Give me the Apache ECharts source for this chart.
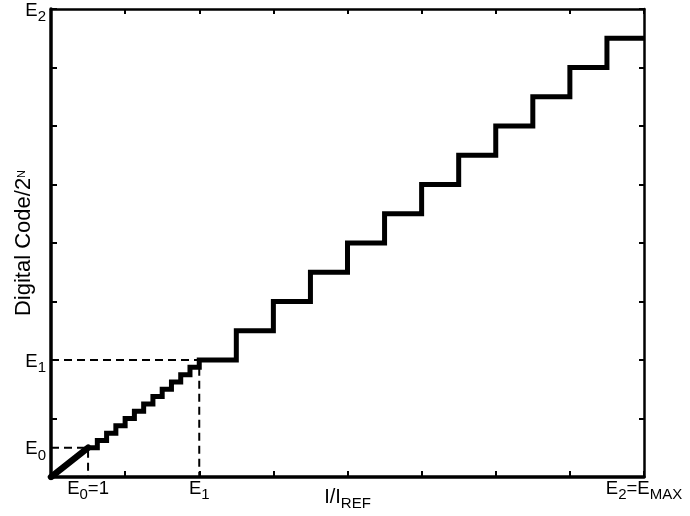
<!DOCTYPE html>
<html>
<head>
<meta charset="utf-8">
<script src="https://cdn.jsdelivr.net/npm/echarts@6/dist/echarts.min.js"></script>
<style>
html,body{margin:0;padding:0;background:#fff;}
#chart{width:690px;height:516px;}
</style>
</head>
<body>
<div id="chart"></div>
<script>
// ---- data ----
const axisMin = 0;
const axisMax = 16;
const axisStep = 2;
const E0 = 1;
const E1 = 4;
const E2 = 16;
// linear part from origin to E0
const rampX = [0, 1];
const rampY = [0, 1];
// fine quantisation steps between E0 and E1
const fineX = [1, 1.25, 1.5, 1.75, 2, 2.25, 2.5, 2.75, 3, 3.25, 3.5, 3.75, 4];
const fineY = [1, 1.25, 1.5, 1.75, 2, 2.25, 2.5, 2.75, 3, 3.25, 3.5, 3.75, 4];
// coarse quantisation steps between E1 and E2
const coarseX = [5, 6, 7, 8, 9, 10, 11, 12, 13, 14, 15, 16];
const coarseY = [5, 6, 7, 8, 9, 10, 11, 12, 13, 14, 15, 15];
// tick labels
const xLabelValues = [E0, E1, E2];
const xLabelTexts = ['{m|E}{s|0}{m|=1}', '{m|E}{s|1}', '{m|E}{s|2}{m|=E}{s|MAX}'];
const yLabelValues = [E0, E1, E2];
const yLabelTexts = ['{m|E}{s|0}', '{m|E}{s|1}', '{m|E}{s|2}'];
const xName = '{m|I/I}{s|REF}';
const yName = '{m|Digital Code/2}{p|N}';

// ---- chart ----
const FONT = "'Liberation Sans', Arial, Helvetica, sans-serif";
const labelRich = {
  m: {fontFamily: FONT, fontSize: 18.5, lineHeight: 22, color: '#000', verticalAlign: 'top'},
  s: {fontFamily: FONT, fontSize: 15, lineHeight: 15, color: '#000', verticalAlign: 'top', padding: [8.5, 0, 0, 0]}
};
const stairPts = fineX.map((x, i) => [x, fineY[i]]).concat(coarseX.map((x, i) => [x, coarseY[i]]));
const rampPts = rampX.map((x, i) => [x, rampY[i]]);

const chart = echarts.init(document.getElementById('chart'), null, {renderer: 'canvas'});
const baseAxis = {
  type: 'value', min: axisMin, max: axisMax, interval: axisStep,
  splitLine: {show: false}
};
chart.setOption({
  animation: false,
  backgroundColor: '#fff',
  grid: {left: 51, right: 46, top: 9, bottom: 39, containLabel: false, outerBoundsMode: 'none'},
  xAxis: [
    Object.assign({}, baseAxis, {
      position: 'bottom',
      axisLine: {show: true, onZero: false, lineStyle: {color: '#000', width: 3.5}},
      axisTick: {show: true, inside: true, length: 6, lineStyle: {color: '#000', width: 2}},
      axisLabel: {
        show: true, margin: 2, customValues: xLabelValues, hideOverlap: false,
        formatter: v => xLabelTexts[xLabelValues.indexOf(v)] || '',
        rich: labelRich
      },
      name: xName, nameLocation: 'middle', nameGap: 10, nameMoveOverlap: false,
      nameTextStyle: {
        rich: {
          m: {fontFamily: FONT, fontSize: 20, lineHeight: 24, color: '#000', verticalAlign: 'top'},
          s: {fontFamily: FONT, fontSize: 15, lineHeight: 15, color: '#000', verticalAlign: 'top', padding: [9, 0, 0, 0]}
        }
      }
    }),
    Object.assign({}, baseAxis, {
      position: 'top',
      axisLine: {show: true, onZero: false, lineStyle: {color: '#000', width: 2.5}},
      axisTick: {show: true, inside: true, length: 5, lineStyle: {color: '#000', width: 2}},
      axisLabel: {show: false}
    })
  ],
  yAxis: [
    Object.assign({}, baseAxis, {
      position: 'left',
      axisLine: {show: true, onZero: false, lineStyle: {color: '#000', width: 3.5}},
      axisTick: {show: true, inside: true, length: 6, lineStyle: {color: '#000', width: 2}},
      axisLabel: {
        show: true, margin: 5, customValues: yLabelValues, hideOverlap: false,
        padding: [6, 0, 0, 0],
        formatter: v => yLabelTexts[yLabelValues.indexOf(v)] || '',
        rich: labelRich
      },
      name: yName, nameLocation: 'middle', nameGap: 12, nameRotate: 90, nameMoveOverlap: false,
      nameTextStyle: {
        rich: {
          m: {fontFamily: FONT, fontSize: 22, lineHeight: 26, color: '#000', verticalAlign: 'top'},
          p: {fontFamily: FONT, fontSize: 11, lineHeight: 11, color: '#000', verticalAlign: 'top', padding: [3.5, 0, 0, 0]}
        }
      }
    }),
    Object.assign({}, baseAxis, {
      position: 'right',
      axisLine: {show: true, onZero: false, lineStyle: {color: '#000', width: 2.5}},
      axisTick: {show: true, inside: true, length: 5, lineStyle: {color: '#000', width: 2}},
      axisLabel: {show: false}
    })
  ],
  series: [
    {
      type: 'line', xAxisIndex: 0, yAxisIndex: 0, symbol: 'none', silent: true, z: 2,
      data: [[axisMin, E0], [E0, E0], [E0, axisMin]],
      lineStyle: {color: '#000', width: 2, type: [8, 5]}
    },
    {
      type: 'line', xAxisIndex: 0, yAxisIndex: 0, symbol: 'none', silent: true, z: 2,
      data: [[axisMin, E1], [E1, E1], [E1, axisMin]],
      lineStyle: {color: '#000', width: 2, type: [8, 5]}
    },
    {
      type: 'line', xAxisIndex: 0, yAxisIndex: 0, symbol: 'none', silent: true, z: 3,
      data: rampPts,
      lineStyle: {color: '#000', width: 6.5, cap: 'round'}
    },
    {
      type: 'line', xAxisIndex: 0, yAxisIndex: 0, symbol: 'none', silent: true, z: 3,
      step: 'end',
      data: stairPts,
      lineStyle: {color: '#000', width: 5, join: 'miter', cap: 'butt'}
    }
  ]
});
</script>
</body>
</html>
